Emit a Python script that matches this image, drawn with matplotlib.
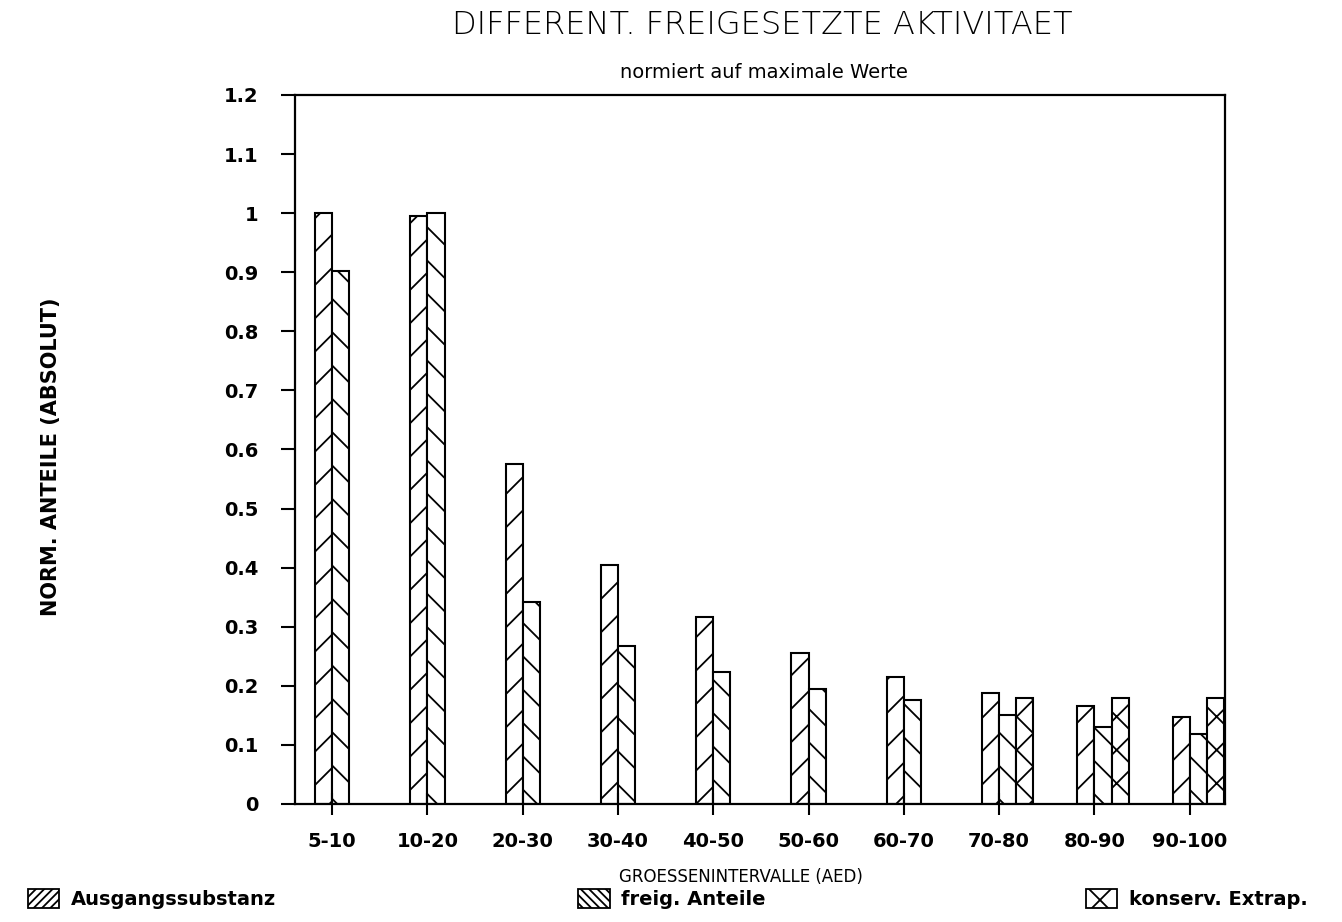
import matplotlib
matplotlib.use("Agg")
import matplotlib.pyplot as plt
import numpy as np
from matplotlib.patches import Patch

plt.rcParams.update({'font.family': 'DejaVu Sans', 'hatch.linewidth': 1.3,
                     'hatch.color': 'black'})

intervalle = ["5-10", "10-20", "20-30", "30-40", "40-50",
              "50-60", "60-70", "70-80", "80-90", "90-100"]
ausgang = [1.0, 0.995, 0.575, 0.405, 0.316, 0.256, 0.215, 0.188, 0.165, 0.147]
freig = [0.902, 1.0, 0.342, 0.267, 0.223, 0.195, 0.176, 0.15, 0.13, 0.118]
konserv = [0, 0, 0, 0, 0, 0, 0, 0.18, 0.18, 0.18]
yticks = [0, 0.1, 0.2, 0.3, 0.4, 0.5, 0.6, 0.7, 0.8, 0.9, 1, 1.1, 1.2]
yticklabels = ["0", "0.1", "0.2", "0.3", "0.4", "0.5", "0.6", "0.7",
               "0.8", "0.9", "1", "1.1", "1.2"]

fig = plt.figure(figsize=(13.42, 9.22), dpi=100)
ax = fig.add_axes([0.2198, 0.128, 0.693, 0.769])

x = np.arange(len(intervalle))
w = 0.18
style = dict(color='white', edgecolor='black', linewidth=1.5)
ax.bar(x - w/2, ausgang, w, hatch='/', **style)
ax.bar(x + w/2, freig, w, hatch='\\', **style)
kx = x[np.array(konserv) > 0]
kv = [v for v in konserv if v > 0]
ax.bar(kx + 1.5*w, kv, w, hatch='x', **style)

ax.set_xlim(-0.39, 9.37)
ax.set_ylim(0, 1.2)
ax.set_xticks(x)
ax.set_xticklabels(intervalle, fontsize=14, fontweight='semibold')
ax.set_yticks(yticks)
ax.set_yticklabels(yticklabels, fontsize=14, fontweight='semibold')
ax.tick_params(axis='y', direction='out', length=10, width=1.5, pad=16)
ax.tick_params(axis='x', direction='inout', length=16, width=1.5, pad=12)
for s in ax.spines.values():
    s.set_linewidth(1.6)

ax.set_ylabel("NORM. ANTEILE (ABSOLUT)", fontsize=15, fontweight='bold')
ax.yaxis.set_label_coords(-0.252, 0.49)
ax.set_xlabel("GROESSENINTERVALLE (AED)", fontsize=12)
ax.xaxis.set_label_coords(0.48, -0.09)

fig.text(0.568, 0.973, "DIFFERENT. FREIGESETZTE AKTIVITAET",
         ha='center', va='center', fontsize=23, fontweight='light')
fig.text(0.569, 0.921, "normiert auf maximale Werte",
         ha='center', va='center', fontsize=14)

# three separate legend entries along the bottom edge
entries = [("Ausgangssubstanz", '////', 0.008),
           ("freig. Anteile", '\\\\\\\\', 0.418),
           ("konserv. Extrap.", 'x', 0.796)]
for label, hatch, xpos in entries:
    h = Patch(facecolor='white', edgecolor='black', hatch=hatch, linewidth=1.3)
    fig.legend(handles=[h], labels=[label], loc='lower left',
               bbox_to_anchor=(xpos, -0.005), frameon=False,
               prop={'size': 14, 'weight': 'semibold'},
               handlelength=1.6, handleheight=1.1, handletextpad=0.6)

fig.savefig("out.png", dpi=100)
